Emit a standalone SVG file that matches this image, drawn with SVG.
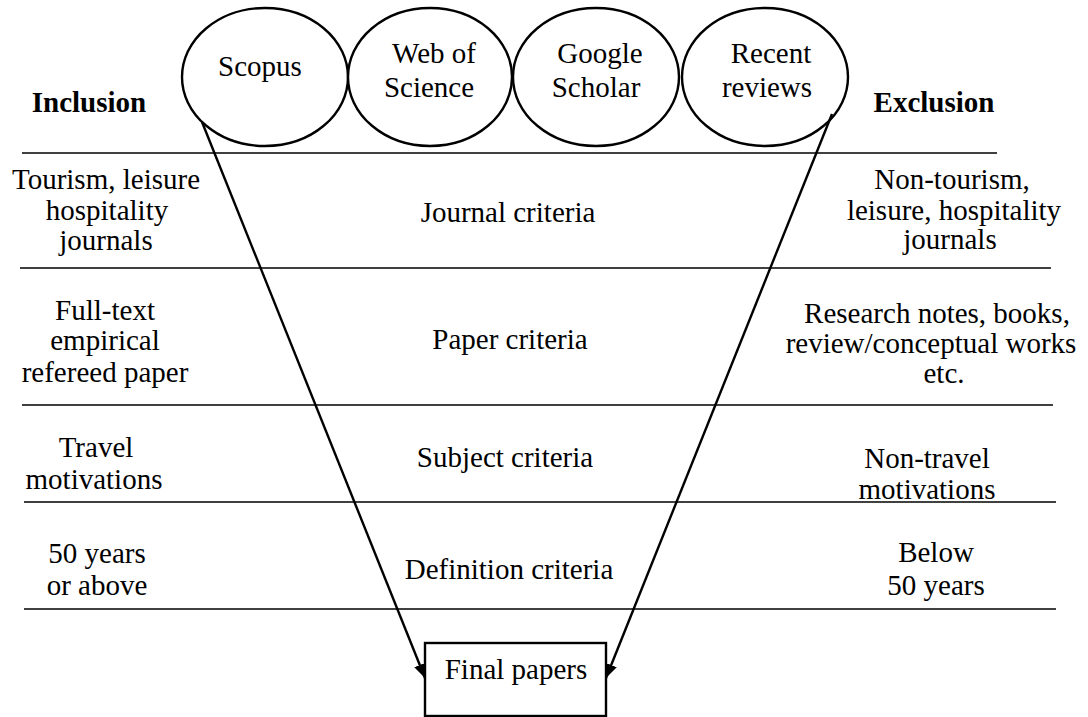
<svg xmlns="http://www.w3.org/2000/svg" width="1088" height="717" viewBox="0 0 1088 717">
<defs>
<style>
text{font-family:'Liberation Serif','Times New Roman',serif;font-size:29px;fill:#000;text-anchor:middle}
.b{font-weight:bold}
.src{fill:#fff;stroke:#000;stroke-width:2.4}
.rule{stroke:#000;stroke-width:1.5}
.conn{stroke:#000;stroke-width:2.4;fill:none}
</style>
<marker id="ah" viewBox="0 0 14 12" refX="14" refY="6" markerWidth="14" markerHeight="12" markerUnits="userSpaceOnUse" orient="auto">
<path d="M0,0 L14,6 L0,12 Z" fill="#000"/>
</marker>
</defs>
<rect width="1088" height="717" fill="#fff"/>
<g id="rules">
<line class="rule" x1="22" y1="153" x2="997" y2="153"/>
<line class="rule" x1="20" y1="268" x2="1051" y2="268"/>
<line class="rule" x1="22" y1="405" x2="1053" y2="405"/>
<line class="rule" x1="24" y1="502" x2="1056" y2="502"/>
<line class="rule" x1="24" y1="609" x2="1056" y2="609"/>
</g>
<g id="headers">
<text class="b" x="89" y="112">Inclusion</text>
<text class="b" x="934" y="112">Exclusion</text>
</g>
<g id="scopus"><ellipse class="src" cx="265" cy="77" rx="83" ry="69"/><text x="260" y="76">Scopus</text></g>
<g id="wos"><ellipse class="src" cx="430" cy="77" rx="82" ry="69"/><text x="434" y="63">Web of</text><text x="429" y="97">Science</text></g>
<g id="scholar"><ellipse class="src" cx="596" cy="77" rx="83" ry="69"/><text x="600" y="63">Google</text><text x="596" y="97">Scholar</text></g>
<g id="reviews"><ellipse class="src" cx="765" cy="77" rx="83" ry="69"/><text x="771" y="63">Recent</text><text x="767" y="97">reviews</text></g>
<g id="row-journal">
<text x="106" y="189">Tourism, leisure</text><text x="107" y="220">hospitality</text><text x="106" y="250">journals</text>
<text x="508" y="222">Journal criteria</text>
<text x="952" y="189">Non-tourism,</text><text x="954" y="220">leisure, hospitality</text><text x="950" y="249">journals</text>
</g>
<g id="row-paper">
<text x="105" y="320">Full-text</text><text x="105" y="350">empirical</text><text x="105" y="382">refereed paper</text>
<text x="510" y="349">Paper criteria</text>
<text x="937" y="323">Research notes, books,</text><text x="931" y="353">review/conceptual works</text><text x="944" y="383">etc.</text>
</g>
<g id="row-subject">
<text x="96" y="457">Travel</text><text x="94" y="489">motivations</text>
<text x="505" y="467">Subject criteria</text>
<text x="927" y="468">Non-travel</text><text x="927" y="499">motivations</text>
</g>
<g id="row-definition">
<text x="97" y="563">50 years</text><text x="97" y="595">or above</text>
<text x="509" y="579">Definition criteria</text>
<text x="936" y="562">Below</text><text x="936" y="595">50 years</text>
</g>
<g id="final"><rect x="425" y="643" width="181" height="73" fill="#fff" stroke="#000" stroke-width="2.4"/><text x="516" y="679">Final papers</text></g>
<g id="connectors">
<line class="conn" x1="202" y1="122" x2="425" y2="678" marker-end="url(#ah)"/>
<line class="conn" x1="832" y1="114" x2="606" y2="678" marker-end="url(#ah)"/>
</g>
</svg>
